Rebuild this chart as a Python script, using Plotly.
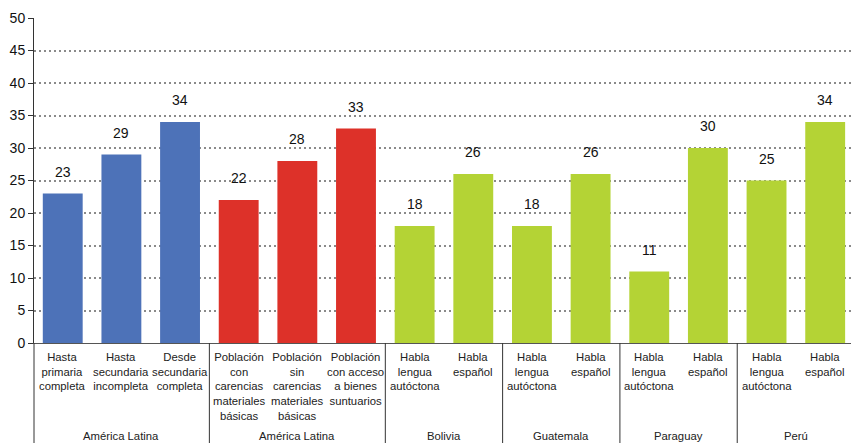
import plotly.graph_objects as go

categories = [
    "Hasta<br>primaria<br>completa",
    "Hasta<br>secundaria<br>incompleta",
    "Desde<br>secundaria<br>completa",
    "Población<br>con<br>carencias<br>materiales<br>básicas",
    "Población<br>sin<br>carencias<br>materiales<br>básicas",
    "Población<br>con acceso<br>a bienes<br>suntuarios",
    "Habla<br>lengua<br>autóctona",
    "Habla<br>español",
    "Habla<br>lengua<br>autóctona",
    "Habla<br>español",
    "Habla<br>lengua<br>autóctona",
    "Habla<br>español",
    "Habla<br>lengua<br>autóctona",
    "Habla<br>español",
]
values = [23, 29, 34, 22, 28, 33, 18, 26, 18, 26, 11, 30, 25, 34]
groups = ["América Latina", "América Latina", "Bolivia", "Guatemala", "Paraguay", "Perú"]
group_sizes = [3, 3, 2, 2, 2, 2]
group_colors = ["#4D72B8", "#DD3129", "#B4D335", "#B4D335", "#B4D335", "#B4D335"]

bar_colors = []
for c, n in zip(group_colors, group_sizes):
    bar_colors += [c] * n

xs = list(range(len(values)))
x_min, x_max = -0.49, 13.44

fig = go.Figure()
fig.add_trace(go.Bar(x=xs, y=values, marker=dict(color=bar_colors, line=dict(width=0)),
                     width=0.68, hoverinfo="skip"))

font_family = "Liberation Sans, Arial, Helvetica, sans-serif"
annotations = []
for x, v in zip(xs, values):
    annotations.append(dict(x=x, y=v, xref="x", yref="y", text=str(v), showarrow=False,
                            yanchor="bottom", yshift=12, font=dict(size=14, color="#111")))
for x, c in zip(xs, categories):
    annotations.append(dict(x=x, y=0, xref="x", yref="paper", text=c, showarrow=False,
                            yanchor="top", yshift=-6, font=dict(size=11.3, color="#222")))

shapes = []
# y-axis extension down
shapes.append(dict(type="line", xref="paper", yref="paper", x0=0, x1=0, y0=0, y1=-0.32,
                   line=dict(color="#333", width=1)))
start = 0
for g, n in zip(groups, group_sizes):
    center = start + (n - 1) / 2
    annotations.append(dict(x=center, y=0, xref="x", yref="paper", text=g, showarrow=False,
                            yanchor="top", yshift=-85, font=dict(size=11.3, color="#222")))
    end = start + n
    if end < len(values):
        shapes.append(dict(type="line", xref="x", yref="paper", x0=end - 0.5, x1=end - 0.5,
                           y0=0, y1=-0.32, line=dict(color="#333", width=1)))
    start = end

fig.update_layout(
    width=851, height=443,
    margin=dict(l=34, r=0, t=18, b=100),
    paper_bgcolor="white", plot_bgcolor="white",
    font=dict(family=font_family, color="#111"),
    showlegend=False,
    bargap=0.3,
    xaxis=dict(range=[x_min, x_max], showticklabels=False, showgrid=False, zeroline=False,
               showline=True, linecolor="#555", linewidth=1, ticks=""),
    yaxis=dict(range=[0, 50], dtick=5, tick0=0, showgrid=True, gridcolor="#8a8a8a",
               griddash="2px,3px", gridwidth=1.5, zeroline=False, showline=True, linecolor="#333",
               linewidth=1, ticks="outside", ticklen=5, tickcolor="#333",
               tickfont=dict(size=14, color="#111")),
    annotations=annotations,
    shapes=shapes,
)

fig.write_html(
    "out.html",
    config={"displayModeBar": False},
    post_script="document.body.style.margin='0';document.body.style.overflow='hidden';",
)
